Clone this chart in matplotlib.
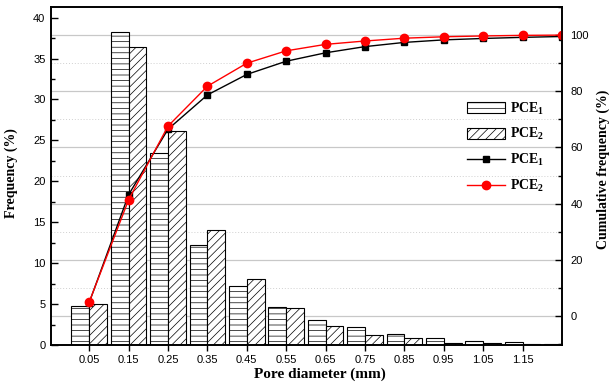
import numpy as np
import matplotlib
matplotlib.use('Agg')
import matplotlib.pyplot as plt

plt.rcParams['font.family'] = 'Liberation Sans'
plt.rcParams['mathtext.default'] = 'regular'
plt.rcParams['hatch.linewidth'] = 0.5

# Data
diameter = [0.05, 0.15, 0.25, 0.35, 0.45, 0.55, 0.65, 0.75, 0.85, 0.95, 1.05, 1.15, 1.25]
tick_labels = ['0.05', '0.15', '0.25', '0.35', '0.45', '0.55', '0.65', '0.75', '0.85', '0.95', '1.05', '1.15']
pce1_freq = [4.8, 38.2, 23.5, 12.2, 7.2, 4.6, 3.1, 2.2, 1.4, 0.8, 0.5, 0.35, 0.15]
pce2_freq = [5.0, 36.4, 26.2, 14.1, 8.1, 4.5, 2.3, 1.2, 0.8, 0.3, 0.25, 0.15, 0.1]
pce1_cum = [4.8, 43.2, 66.5, 78.7, 86.0, 90.7, 93.7, 95.9, 97.4, 98.3, 98.8, 99.2, 99.5]
pce2_cum = [5.0, 41.4, 67.6, 81.8, 90.0, 94.4, 96.7, 97.9, 98.9, 99.4, 99.7, 99.9, 100.0]

serif_bold = dict(family='Liberation Serif', weight='bold')

fig = plt.figure(figsize=(6.12, 3.84), dpi=100)
ax1 = fig.add_axes([51 / 612, 39 / 384, 511 / 612, 338 / 384])
ax2 = ax1.twinx()

ax1.set_xlim(-0.047, 1.25)
ax1.set_ylim(0, 41.3)
ax2.set_ylim(-10.3, 110)

# grid lines follow the right axis, drawn behind the bars
for v in range(0, 101, 20):
    ax1.plot([0, 1], [v, v], transform=ax2.get_yaxis_transform(), color='#c8c8c8',
             lw=0.9, zorder=0.5)
for v in range(10, 101, 20):
    ax1.plot([0, 1], [v, v], transform=ax2.get_yaxis_transform(), color='#d0d0d0',
             lw=0.7, ls=(0, (1, 2)), zorder=0.5)

w = 0.045
b1 = ax1.bar(diameter, pce1_freq, width=-w, align='edge', color='white',
             edgecolor='black', linewidth=0.8, hatch='---', zorder=1)
b2 = ax1.bar(diameter, pce2_freq, width=w, align='edge', color='white',
             edgecolor='black', linewidth=0.8, hatch='////', zorder=1)

l1, = ax2.plot(diameter, pce1_cum, color='black', lw=1, marker='s', markersize=5)
l2, = ax2.plot(diameter, pce2_cum, color='red', lw=1, marker='o', markersize=6)

ax1.set_xticks(diameter[:-1])
ax1.set_xticklabels(tick_labels)
ax1.set_yticks(np.arange(0, 41, 5))
ax1.set_yticks(np.arange(0, 41, 2.5), minor=True)
ax2.set_yticks(np.arange(0, 101, 20))
ax2.set_yticks(np.arange(-10, 111, 10), minor=True)

ax1.tick_params(axis='x', direction='out', length=4, width=1, labelsize=8, pad=3)
ax1.tick_params(axis='y', which='major', direction='in', length=5, width=1, labelsize=8, pad=4)
ax1.tick_params(axis='y', which='minor', direction='in', length=3, width=1)
ax2.tick_params(axis='y', which='major', direction='in', length=5, width=1, labelsize=8, pad=6)
ax2.tick_params(axis='y', which='minor', direction='in', length=3, width=1)
for sp in ax2.spines.values():
    sp.set_linewidth(1.2)
for sp in ax1.spines.values():
    sp.set_linewidth(1.2)

ax1.set_xlabel('Pore diameter (mm)', fontsize=11, **serif_bold)
ax1.xaxis.set_label_coords(0.526, -0.066)
ax1.set_ylabel('Frequency (%)', fontsize=10, **serif_bold)
ax1.yaxis.set_label_coords(-0.064, 0.51)
ax2.set_ylabel('Cumulative frequency (%)', fontsize=10, **serif_bold)
ax2.yaxis.set_label_coords(1.068, 0.52)

leg = ax2.legend([b1, b2, l1, l2], ['PCE$_1$', 'PCE$_2$', 'PCE$_1$', 'PCE$_2$'],
                 loc='center', bbox_to_anchor=(0.89, 0.585), frameon=False,
                 prop=dict(family='Liberation Serif', weight='bold', size=10),
                 handlelength=2.7, handleheight=0.9, labelspacing=0.7, handletextpad=0.4)

fig.savefig('out.png', dpi=100)
